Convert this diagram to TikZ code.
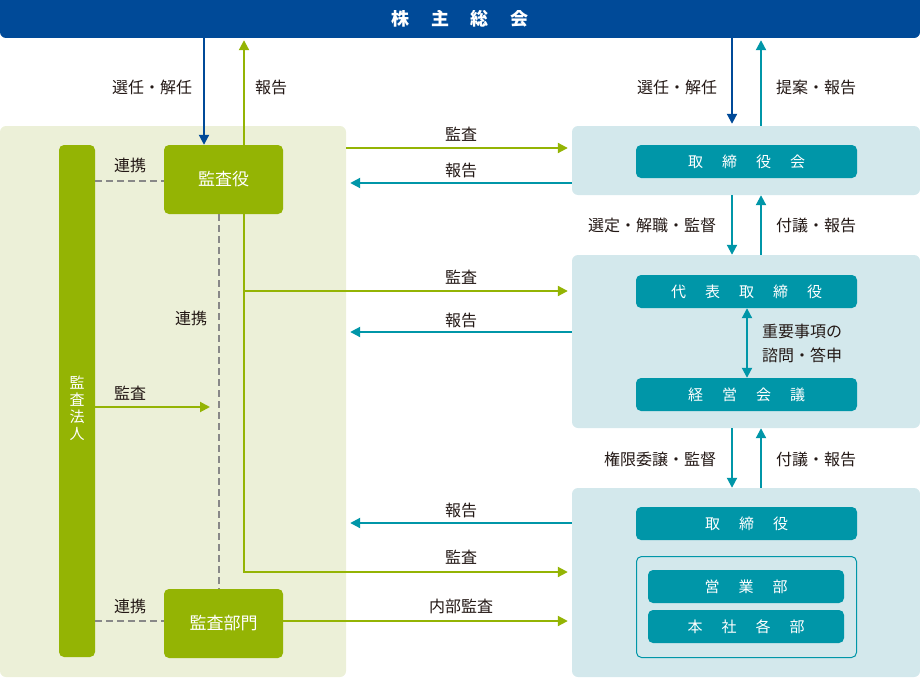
\documentclass[tikz,border=0pt]{standalone}
\usepackage{fontspec}
\setmainfont{Noto Sans CJK JP}
\usetikzlibrary{arrows.meta}
\definecolor{cblue}{HTML}{004A98}
\definecolor{cgreen}{HTML}{94B404}
\definecolor{cteal}{HTML}{0096A8}
\definecolor{cpgreen}{HTML}{ECF0D8}
\definecolor{cpblue}{HTML}{D3E8EC}
\definecolor{cgray}{HTML}{888888}
\definecolor{ctext}{HTML}{231815}
\newcommand\gp{\hspace{19pt}}
\newcommand\gq{\hspace{22pt}}
\tikzset{
  panel/.style={rectangle, rounded corners=6pt, inner sep=0pt, draw=none},
  gbox/.style={rectangle, rounded corners=5pt, fill=cgreen, inner sep=0pt, text=white, font=\fontsize{17}{20}\selectfont},
  tbtn/.style={rectangle, rounded corners=5pt, fill=cteal, inner sep=0pt, text=white, font=\fontsize{15}{18}\selectfont, minimum height=33pt},
  lbl/.style={text=ctext, font=\fontsize{16}{19}\selectfont, inner sep=0pt},
  tip/.style={-{Triangle[length=10pt,width=10pt]}},
  tipb/.style={{Triangle[length=10pt,width=10pt]}-{Triangle[length=10pt,width=10pt]}},
  garr/.style={draw=cgreen, line width=2pt, tip, cgreen},
  tarr/.style={draw=cteal, line width=2pt, tip, cteal},
  barr/.style={draw=cblue, line width=2pt, tip, cblue},
  dsh/.style={draw=cgray, line width=2pt, dash pattern=on 7pt off 4pt},
}
\begin{document}
\begin{tikzpicture}[x=1pt,y=-1pt]
\useasboundingbox (0,0) rectangle (920,677);
% top bar
\node[panel, fill=cblue, minimum width=920pt, minimum height=38pt, text=white, font=\fontsize{18}{20}\selectfont\bfseries] (kabu) at (460,19) {株\gq 主\gq 総\gq 会};
\fill[cblue] (0,0) rectangle (920,10);
% panels
\node[panel, fill=cpgreen, minimum width=346pt, minimum height=551pt] (lp) at (173,401.5) {};
\node[panel, fill=cpblue, minimum width=348pt, minimum height=69pt] (p1) at (746,160.5) {};
\node[panel, fill=cpblue, minimum width=348pt, minimum height=173pt] (p2) at (746,341.5) {};
\node[panel, fill=cpblue, minimum width=348pt, minimum height=189pt] (p3) at (746,582.5) {};
% left side nodes
\node[gbox, rounded corners=5pt, minimum width=36pt, minimum height=512pt] (hojin) at (77,401) {};
\node[text=white, font=\fontsize{15}{17}\selectfont, align=center, inner sep=0pt] (hojintxt) at (77,408) {監\\査\\法\\人};
\node[gbox, minimum width=119pt, minimum height=69pt] (yaku) at (223.5,179.5) {監査役};
\node[gbox, minimum width=119pt, minimum height=69pt] (bumon) at (223.5,623.5) {監査部門};
% right side buttons
\node[tbtn, minimum width=221pt] (trk) at (746.5,161.5) {取\gp 締\gp 役\gp 会};
\node[tbtn, minimum width=221pt] (dai) at (746.5,291.5) {代\gp 表\gp 取\gp 締\gp 役};
\node[tbtn, minimum width=221pt] (kei) at (746.5,394.5) {経\gp 営\gp 会\gp 議};
\node[tbtn, minimum width=221pt] (tr) at (746.5,523.5) {取\gp 締\gp 役};
\node[rectangle, rounded corners=5pt, draw=cteal, line width=1pt, minimum width=220pt, minimum height=101pt, inner sep=0pt] (inner) at (746.5,607) {};
\node[tbtn, minimum width=196pt] (eig) at (746,586.5) {営\gp 業\gp 部};
\node[tbtn, minimum width=196pt] (hon) at (746,626.5) {本\gp 社\gp 各\gp 部};
% coordinates
\coordinate (br) at (244,291);
\coordinate (corner) at (244,572);
\coordinate (kend) at (210,407);
% left top arrows
\draw[barr] (kabu.south -| 204,0) -- (yaku.north -| 204,0);
\draw[garr, shorten >=2pt] (yaku.north -| 244,0) -- (kabu.south -| 244,0);
\node[lbl] (l1) at (152,87) {選任・解任};
\node[lbl] (l2) at (271,87) {報告};
% dashed links
\draw[dsh] (hojin.east |- 0,181) -- (yaku.west |- 0,181);
\draw[dsh] (hojin.east |- 0,621) -- (bumon.west |- 0,621);
\draw[dsh] (yaku.south -| 219,0) -- (bumon.north -| 219,0);
\node[lbl] (r1) at (130,165) {連携};
\node[lbl] (r2) at (130,606) {連携};
\node[lbl] (r3) at (191,318) {連携};
% hojin kansa
\draw[garr] (hojin.east |- kend) -- (kend);
\node[lbl] (k0) at (130,393) {監査};
% green audit lines
\draw[garr, shorten >=4pt] (yaku.south -| corner) -- (corner) -- (p3.west |- corner);
\draw[garr, shorten >=4pt] (br) -- (p2.west |- br);
\draw[garr, shorten >=4pt] (lp.east |- 0,148) -- (p1.west |- 0,148);
\draw[garr, shorten >=4pt] (bumon.east |- 0,621) -- (p3.west |- 0,621);
% teal report arrows
\draw[tarr, shorten >=4pt] (p1.west |- 0,183) -- (lp.east |- 0,183);
\draw[tarr, shorten >=4pt] (p2.west |- 0,332) -- (lp.east |- 0,332);
\draw[tarr, shorten >=4pt] (p3.west |- 0,523) -- (lp.east |- 0,523);
\node[lbl] (m1) at (461,134) {監査};
\node[lbl] (m2) at (461,170) {報告};
\node[lbl] (m3) at (461,277) {監査};
\node[lbl] (m4) at (461,320) {報告};
\node[lbl] (m5) at (461,510) {報告};
\node[lbl] (m6) at (461,557) {監査};
\node[lbl] (m7) at (461,606) {内部監査};
% right vertical arrows
\draw[barr, shorten >=2pt] (kabu.south -| 732,0) -- (p1.north -| 732,0);
\draw[tarr, shorten >=2pt] (p1.north -| 761,0) -- (kabu.south -| 761,0);
\node[lbl] (v1) at (677,87) {選任・解任};
\node[lbl] (v2) at (816,87) {提案・報告};
\draw[tarr] (p1.south -| 732,0) -- (p2.north -| 732,0);
\draw[tarr] (p2.north -| 761,0) -- (p1.south -| 761,0);
\node[lbl] (v3) at (652,225) {選定・解職・監督};
\node[lbl] (v4) at (816,225) {付議・報告};
\draw[tarr] (p2.south -| 732,0) -- (p3.north -| 732,0);
\draw[tarr] (p3.north -| 761,0) -- (p2.south -| 761,0);
\node[lbl] (v5) at (660,459) {権限委譲・監督};
\node[lbl] (v6) at (816,459) {付議・報告};
\draw[draw=cteal, line width=2pt, tipb, cteal] (dai.south -| 747,0) -- (kei.north -| 747,0);
\node[lbl, align=left, anchor=west, font=\fontsize{16}{24}\selectfont] (v7) at (762,343) {重要事項の\\諮問・答申};
\end{tikzpicture}
\end{document}
